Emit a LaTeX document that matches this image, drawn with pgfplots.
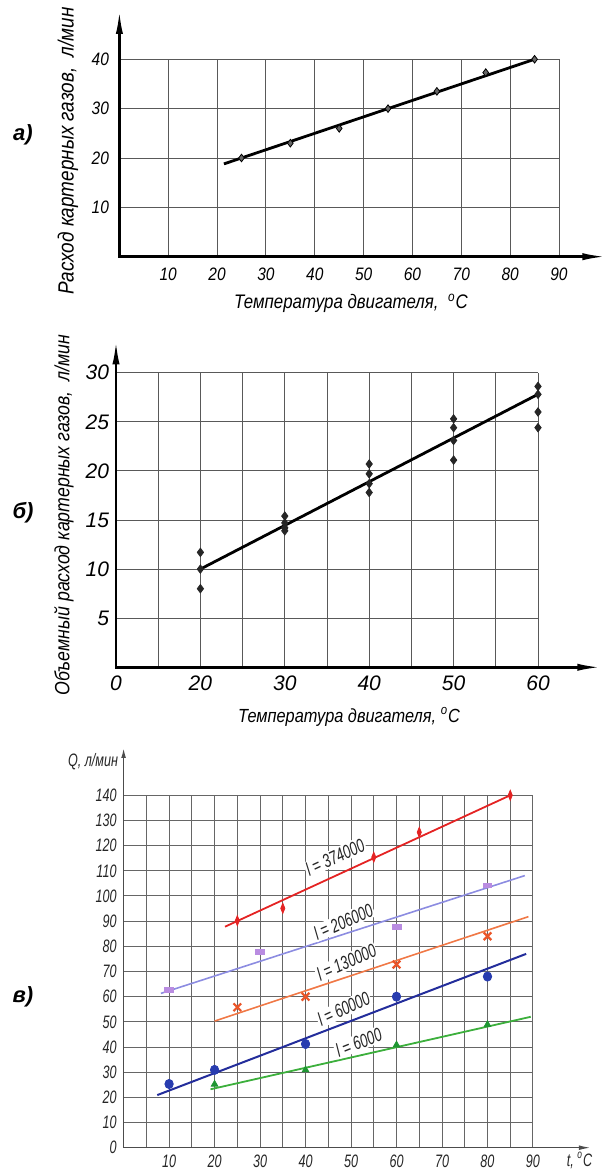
\documentclass[border=0pt]{standalone}
\usepackage{pgfplots}
\pgfplotsset{compat=1.18}
\usepackage{fontspec}
\setmainfont{Liberation Sans}
\newfontfamily\gosta{Liberation Sans}[FakeStretch=0.86]
\newfontfamily\gostb{Liberation Sans}
\newfontfamily\gostc{Liberation Sans}[FakeStretch=0.7]
\usetikzlibrary{arrows.meta}
\definecolor{lred}{RGB}{228,35,35}
\definecolor{llav}{RGB}{140,140,225}
\definecolor{lsq}{RGB}{185,140,225}
\definecolor{lora}{RGB}{240,120,70}
\definecolor{lx}{RGB}{235,85,40}
\definecolor{lblue}{RGB}{35,45,155}
\definecolor{lcirc}{RGB}{40,60,175}
\definecolor{lgreen}{RGB}{60,175,60}
\definecolor{ltri}{RGB}{30,150,50}
\pgfplotsset{gost/.style={scale only axis, clip=false, axis line style={draw=none},
  major tick length=0pt, minor tick length=0pt,
  /pgf/number format/assume math mode=true}}
\begin{document}
\begin{tikzpicture}
\path[use as bounding box] (0,0) rectangle (303.5pt,585.5pt);

% ---------------- panel a ----------------
\begin{axis}[gost, at={(59.7pt,457.15pt)}, anchor=south west,
  width=219.8pt, height=98.7pt,
  xmin=0, xmax=90, ymin=0, ymax=40,
  xtick={10,20,...,90}, ytick={10,20,30,40},
  grid=major, major grid style={line width=0.45pt, black!65},
  tick label style={font=\gosta\itshape\fontsize{9}{9}\selectfont},
  xticklabel style={yshift=-2pt}, yticklabel style={xshift=-1.7pt}]
\addplot[line width=1.4pt, black] coordinates {(21.4,18.8) (85,40)};
\addplot[only marks, mark=diamond*, mark size=1.9pt, mark options={fill=black!60, draw=black, line width=0.4pt}]
  coordinates {(25,20) (35,23) (45,26) (55,30) (65,33.5) (75,37.3) (85,40)};
\draw[line width=1.3pt, {Latex[length=12pt,width=3.6pt]}-{Latex[length=12pt,width=3.6pt]}]
  (axis cs:0,50) -- (axis cs:0,0) -- (axis cs:99.7,0);
\end{axis}
\node[font=\gosta\itshape\fontsize{9.8}{9.8}\selectfont] at (175.5pt,433.85pt) {Температура двигателя,\ \ \textsuperscript{o}C};
\node[rotate=90, font=\gosta\itshape\fontsize{11}{11}\selectfont] at (34pt,510pt) {Расход картерных газов,\ \ л/мин};
\node[font=\bfseries\itshape\fontsize{11}{11}\selectfont] at (11.5pt,518pt) {а)};

% ---------------- panel b ----------------
\begin{axis}[gost, at={(58pt,251.85pt)}, anchor=south west,
  width=211pt, height=147.3pt,
  xmin=10, xmax=60, ymin=0, ymax=30,
  xtick={10,20,...,60}, xticklabels={0,20,30,40,50,60},
  minor xtick={15,25,...,55},
  ytick={5,10,...,30},
  grid=both, major grid style={line width=0.45pt, black!65},
  minor grid style={line width=0.45pt, black!65},
  tick label style={font=\gostb\itshape\fontsize{10.5}{10.5}\selectfont},
  xticklabel style={yshift=-0.5pt}]
\addplot[line width=1.4pt, black] coordinates {(20,10) (60,27.8)};
\addplot[only marks, mark=diamond*, mark size=2.1pt, mark options={fill=black!85, draw=black!85}]
  coordinates {(20,11.7) (20,10) (20,8)
               (30,15.4) (30,14.7) (30,14.2) (30,13.9)
               (40,20.7) (40,19.7) (40,18.7) (40,17.8)
               (50,25.3) (50,24.4) (50,23.1) (50,21.1)
               (60,28.6) (60,27.8) (60,26) (60,24.4)};
\draw[line width=1.3pt, {Latex[length=12pt,width=3.6pt]}-{Latex[length=12pt,width=3.6pt]}]
  (axis cs:10,33.3) -- (axis cs:10,0) -- (axis cs:67.5,0);
\end{axis}
\node[font=\gosta\itshape\fontsize{9.5}{9.5}\selectfont] at (174.5pt,227.15pt) {Температура двигателя,\ \textsuperscript{o}C};
\node[rotate=90, font=\gosta\itshape\fontsize{10.3}{10.3}\selectfont] at (32pt,328pt) {Объемный расход картерных газов,\ \ л/мин};
\node[font=\bfseries\itshape\fontsize{11}{11}\selectfont] at (11.5pt,329.15pt) {б)};

% ---------------- panel v ----------------
\begin{axis}[gost, at={(61.8pt,11.65pt)}, anchor=south west,
  width=204.7pt, height=176.2pt,
  xmin=0, xmax=90, ymin=0, ymax=140,
  xtick={10,20,...,90}, minor xtick={5,15,...,85},
  ytick={0,10,...,140},
  grid=both, major grid style={line width=0.5pt, black!60},
  minor grid style={line width=0.5pt, black!60},
  tick label style={font=\gostc\itshape\fontsize{9}{9}\selectfont, text=black!85}]
% lines
\addplot[line width=0.9pt, lred] coordinates {(22.3,87.8) (85,140)};
\addplot[line width=0.8pt, llav] coordinates {(8.2,61.3) (88.2,108.1)};
\addplot[line width=0.8pt, lora] coordinates {(20,50.3) (89,91.8)};
\addplot[line width=1.0pt, lblue] coordinates {(7.4,20.9) (88.5,77)};
\addplot[line width=0.9pt, lgreen] coordinates {(19.1,23.2) (89.5,52)};
% marks
\addplot[only marks, mark=diamond*, mark size=2.5pt, mark options={xscale=0.55, fill=lred, draw=lred}]
  coordinates {(25,90.2) (35,95.1) (55,115.4) (65,125.3) (85,140)};
\addplot[only marks, mark=square*, mark size=2.2pt, mark options={yscale=0.55, fill=lsq, draw=lsq}]
  coordinates {(10,62.6) (30,77.9) (60,87.8) (80,104.2)};
\addplot[only marks, mark=x, mark size=2.7pt, mark options={line width=1.1pt, draw=lx}]
  coordinates {(25,55.8) (40,60) (60,72.8) (80,84)};
\addplot[only marks, mark=*, mark size=2.1pt, mark options={yscale=1.1, fill=lcirc, draw=lcirc}]
  coordinates {(10,25.3) (20,30.9) (40,41.2) (60,60) (80,68)};
\addplot[only marks, mark=triangle*, mark size=1.9pt, mark options={fill=ltri, draw=ltri}]
  coordinates {(20,25.2) (40,30.9) (60,40.8) (80,48.9)};
% line labels
\begin{scope}[every node/.style={fill=white, inner sep=0.6pt, text=black!85, font=\gostc\itshape\fontsize{9.5}{9.5}\selectfont}]
\node[rotate=25] at (axis cs:46.5,115.5) {l = 374000};
\node[rotate=24] at (axis cs:48.3,89.8) {l = 206000};
\node[rotate=24] at (axis cs:49,73.6) {l = 130000};
\node[rotate=25] at (axis cs:48.4,55.2) {l = 60000};
\node[rotate=22] at (axis cs:51.7,41.8) {l = 6000};
\end{scope}
\draw[line width=0.7pt, black!70, {Latex[length=5pt,width=2.4pt]}-{Latex[length=6pt,width=2.4pt]}]
  (axis cs:0,158.8) -- (axis cs:0,0) -- (axis cs:102.7,0);
\end{axis}
\node[font=\gostc\itshape\fontsize{9}{9}\selectfont, text=black!85] at (46.5pt,204.65pt) {Q, л/мин};
\node[font=\gostc\itshape\fontsize{9}{9}\selectfont, text=black!85] at (289.75pt,5.2pt) {t, \textsuperscript{o}C};
\node[font=\bfseries\itshape\fontsize{11}{11}\selectfont] at (11.5pt,87pt) {в)};
\end{tikzpicture}
\end{document}
